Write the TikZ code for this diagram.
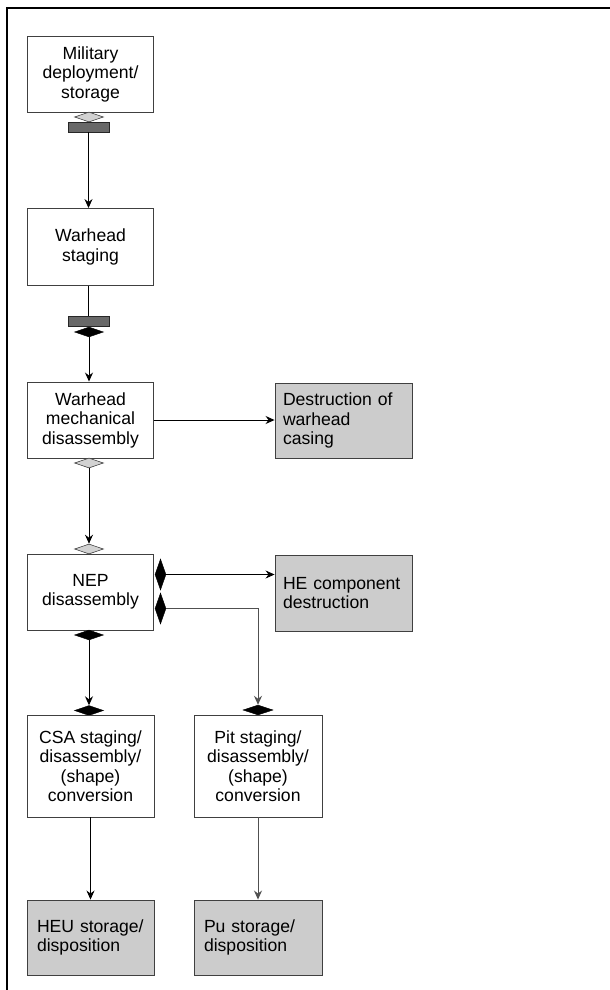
\documentclass[tikz,border=0pt]{standalone}
\usepackage{fontspec}
\setmainfont{Liberation Sans}
\usetikzlibrary{shapes.geometric,arrows.meta}
\definecolor{boxline}{HTML}{404040}
\definecolor{grayfill}{HTML}{CCCCCC}
\definecolor{lightdia}{HTML}{D2D2D2}
\definecolor{darkbar}{HTML}{686868}
\definecolor{grayline}{HTML}{505050}
\begin{document}
\begin{tikzpicture}[x=1pt,y=-1pt,
  txt/.style={font=\fontsize{17.6}{19.5}\selectfont},
  wbox/.style={txt, draw=boxline, line width=0.9pt, fill=white, minimum width=126pt, minimum height=76pt, inner sep=0pt, align=center},
  gbox/.style={txt, draw=boxline, line width=0.9pt, fill=grayfill, minimum height=75pt, inner ysep=0pt, align=left},
  gdia/.style={diamond, draw=boxline, line width=0.6pt, fill=lightdia, minimum width=29pt, minimum height=10pt, inner sep=0pt},
  bdia/.style={diamond, draw=black, line width=0.4pt, fill=black, minimum width=29pt, minimum height=10pt, inner sep=0pt},
  vdia/.style={diamond, draw=black, line width=0.4pt, fill=black, minimum width=11pt, minimum height=31pt, inner sep=0pt},
  bar/.style={rectangle, draw=black!85, line width=0.6pt, fill=darkbar, minimum width=41pt, minimum height=10pt, inner sep=0pt},
  arr/.style={draw=black, line width=0.9pt, -{Stealth[length=9pt,width=8pt,inset=3pt]}},
  plain/.style={draw=black, line width=0.9pt}
]
\useasboundingbox (0,0) rectangle (610,990);
\draw[line width=1.5pt] (7,990) -- (7,8) -- (610,8);

% left column
\node[wbox] (m1) at (90.5,74) {Military\\deployment/\\storage};
\node[gdia] (gd1) at (89,117) {};
\node[bar] (bar1) at (88.5,127) {};

\node[wbox, minimum height=77pt] (m2) at (90.5,247) {Warhead\\staging};
\node[bar] (bar2) at (88.5,321.5) {};
\node[bdia] (bd2) at (89,332) {};

\node[wbox] (m3) at (90.5,420) {Warhead\\mechanical\\disassembly};
\node[gdia] (gd3) at (89,463) {};
\node[gdia] (gd4) at (89,549) {};

\node[wbox] (m4) at (90.5,592) {NEP\\disassembly};
\node[vdia] (vd1) at (160.5,574.5) {};
\node[vdia] (vd2) at (160.5,608.5) {};
\node[bdia] (bd5) at (89,635) {};
\node[bdia] (bd6) at (89,710.5) {};

\node[wbox, minimum width=127pt, minimum height=102pt] (csa) at (90.5,766) {CSA staging/\\disassembly/\\(shape)\\conversion};
\node[bdia, minimum width=30pt] (pitd) at (258,710) {};
\node[wbox, minimum width=128pt, minimum height=102pt] (pit) at (258,766) {Pit staging/\\disassembly/\\(shape)\\conversion};

% gray boxes
\node[gbox, inner xsep=8pt, text width=121pt] (d1) at (343.5,420.5) {Destruction of\\warhead\\casing};
\node[gbox, inner xsep=8pt, text width=121pt, minimum height=76pt] (he) at (343.5,593) {HE component\\destruction};
\node[gbox, inner xsep=10pt, text width=107pt] (heu) at (90.5,937.5) {HEU storage/\\disposition};
\node[gbox, inner xsep=10pt, text width=108pt] (pu) at (258,937.5) {Pu storage/\\disposition};

% connectors
\draw[arr] (bar1.south) -- (bar1.south |- m2.north);
\draw[plain] (m2.south -| bar2.north) -- (bar2.north);
\draw[arr] (bd2.south) -- (bd2.south |- m3.north);
\draw[arr] (m3.east) -- (m3.east -| d1.west);
\draw[arr] (gd3.south) -- (gd4.north);
\draw[arr] (vd1.east) -- (vd1.east -| he.west);
\draw[arr, draw=grayline] (vd2.east) -| (pitd.north);
\draw[arr] (bd5.south) -- (bd6.north);
\draw[arr] (csa.south) -- (heu.north);
\draw[arr, draw=grayline] (pit.south) -- (pu.north);
\end{tikzpicture}
\end{document}
